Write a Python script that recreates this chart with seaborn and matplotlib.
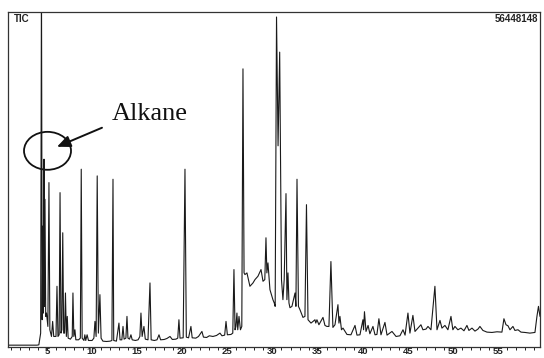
import matplotlib
matplotlib.use("Agg")
import matplotlib.pyplot as plt
import matplotlib.patches as mpatches
import numpy as np
import pandas as pd
import seaborn as sns

# ---- data (retention time in min, relative intensity) ----
t_early = [0.68, 3.9, 4.1, 4.3, 4.39, 4.47, 4.55, 4.61, 4.67, 4.72, 4.78, 4.86, 4.95,
           5.1, 5.22, 5.32, 5.5, 5.63, 5.75, 6.0, 6.11, 6.22, 6.35, 6.45, 6.55, 6.65,
           6.75, 6.85, 6.95, 7.05, 7.15, 7.25, 7.35, 7.6, 7.8, 7.88, 7.98, 8.1, 8.2,
           8.5, 8.7, 8.8, 8.9, 9.1, 9.2, 9.3, 9.45, 9.6, 10.0, 10.2, 10.32, 10.45,
           10.57, 10.7, 10.87, 11.0, 11.2, 11.6, 12.0, 12.2, 12.32, 12.4, 12.7]
i_early = [0.4, 0.4, 0.5, 4.0, 110, 8.0, 36, 10, 56, 12, 44, 9, 10,
           6, 49, 5, 3, 7.5, 3, 3, 18, 3, 3.5, 46, 4, 5,
           34, 4, 4, 16, 3, 9, 2.5, 2.2, 3, 16, 3, 5, 2,
           2, 2.5, 53, 2.5, 1.8, 3.5, 1.8, 3.5, 1.8, 1.8, 2.5, 7.5, 3,
           51, 4, 15.5, 2.5, 1.6, 1.5, 1.6, 1.8, 50, 1.8, 1.6]

t_mid = [12.98, 13.1, 13.3, 13.43, 13.55, 13.75, 13.87, 13.98, 14.15, 14.31, 14.45,
         14.8, 15.1, 15.3, 15.42, 15.55, 15.75, 15.9, 16.2, 16.42, 16.55, 16.9, 17.2,
         17.42, 17.6, 18.0, 18.3, 18.64, 18.9, 19.3, 19.5, 19.63, 19.75, 20.1, 20.3,
         20.45, 20.7, 20.96, 21.1, 21.5, 21.8, 22.18, 22.35, 22.7, 23.0, 23.4, 23.8,
         24.18, 24.4, 24.7, 24.85, 25.0, 25.4, 25.6, 25.73, 25.85, 25.95, 26.06,
         26.15, 26.29, 26.45, 26.6, 26.73, 26.85, 26.95, 27.17, 27.5, 27.84, 28.06,
         28.39, 28.73, 28.95, 29.15, 29.28, 29.38, 29.5, 29.72, 30.05, 30.2, 30.3,
         30.45, 30.62, 30.8, 31.0, 31.16, 31.3, 31.5, 31.6, 31.72, 31.83, 31.94,
         32.16, 32.5, 32.6, 32.72, 32.88, 33.05, 33.38, 33.6, 33.77, 33.94]
i_mid = [7, 2, 2, 6, 2.2, 2.5, 9, 2.5, 2.2, 3.5, 2,
         1.8, 2, 3, 10, 3, 6, 2.2, 2, 19, 2, 1.8, 2,
         3.5, 2.0, 2.1, 2.4, 3, 2.1, 2.2, 2.5, 8, 2.5, 2.6, 53,
         2.8, 2.6, 6, 2.6, 2.5, 3, 4.5, 2.8, 2.7, 3.2, 3.0, 3.3,
         4, 3.2, 3.4, 7.5, 3.5, 3.6, 4, 23, 5, 6, 10,
         5, 9, 5, 6, 83, 22, 21.5, 22, 18, 19, 20,
         21, 23, 19.5, 20, 32.5, 22, 25, 17, 14, 13, 12,
         98.5, 60, 88, 20, 14, 20, 45.7, 14, 22, 13, 11.6,
         12, 16, 12, 50, 12, 11, 8.7, 9, 42.4, 8]

t_late = [34.27, 34.5, 34.71, 34.8, 34.93, 35.15, 35.6, 35.82, 36.04, 36.26, 36.48,
          36.7, 36.93, 37.26, 37.37, 37.48, 37.65, 37.82, 38.26, 38.7, 39.15, 39.37,
          39.7, 40.03, 40.1, 40.2, 40.37, 40.6, 40.8, 41.14, 41.37, 41.58, 41.8, 42.03,
          42.47, 42.7, 43.25, 43.7, 44.13, 44.47, 44.7, 45.02, 45.24, 45.57, 45.8,
          46.13, 46.46, 46.68, 47.02, 47.24, 47.57, 48.01, 48.24, 48.57, 48.79, 49.12,
          49.45, 49.79, 50.0, 50.23, 50.56, 50.89, 51.23, 51.56, 51.78, 52.12, 52.45,
          52.78, 53.0, 53.33, 53.78, 54.33, 54.89, 55.44, 55.66, 55.89, 56.11, 56.33,
          56.66, 56.88, 57.22, 57.55, 57.99, 58.54, 59.1, 59.32, 59.49, 59.66]
i_late = [7, 7.5, 8, 7, 8, 6.5, 8.7, 6.3, 6, 6, 25.4,
          5.7, 6.5, 12.5, 7, 9, 5, 5.5, 3.6, 3.5, 6.3, 3.4,
          3.5, 8, 5, 10.4, 4.5, 6.3, 3.8, 6, 3.5, 3.6, 8.3, 3.5,
          7.2, 3.4, 4.5, 3.0, 3.2, 5, 3.4, 10, 4, 9.3, 4.5,
          5.5, 6.5, 5, 5.2, 6, 5, 18, 5, 7.8, 5.5, 6.3,
          5, 9, 5, 6, 5, 5.5, 4.7, 6.3, 4.8, 5.5, 4.6,
          5.2, 6, 4.8, 4.3, 4.2, 4.4, 4.3, 8.3, 6.5, 6.2, 5,
          6, 4.8, 5, 4.3, 4.2, 4.0, 4.2, 9, 12, 9]

major_ticks = [5, 10, 15, 20, 25, 30, 35, 40, 45, 50, 55]
tick_labels = ["5", "10", "15", "20", "25", "30", "35", "40", "45", "50", "55"]
signal_label = "TIC"
max_label = "56448148"
annot_text = "Alkane"

df = pd.DataFrame({
    "time": t_early + t_mid + t_late,
    "intensity": i_early + i_mid + i_late,
})

sns.set_style("white")
sansf = ["Liberation Sans", "DejaVu Sans"]
plt.rcParams["font.family"] = sansf

fig = plt.figure(figsize=(5.44, 3.58), dpi=100)
ax = fig.add_axes([8 / 544, 1 - 346.5 / 358, 532 / 544, 334.5 / 358])

sns.lineplot(data=df, x="time", y="intensity", ax=ax, sort=False, estimator=None,
             color="#1a1a1a", linewidth=0.8)

ax.set_xlim(0.68, 59.66)
ax.set_ylim(0, 100)
ax.set_xlabel("")
ax.set_ylabel("")
ax.set_yticks([])
ax.set_xticks(major_ticks)
ax.set_xticklabels(tick_labels, fontsize=6.8, fontweight="bold", family=sansf)
ax.set_xticks(np.arange(1, 60, 1), minor=True)
ax.tick_params(axis="x", which="major", direction="out", length=2.5, width=0.8,
               pad=-2.2, colors="#222222", bottom=True)
ax.tick_params(axis="x", which="minor", direction="out", length=2.2, width=0.7,
               bottom=True, color="#222222")
for s in ax.spines.values():
    s.set_visible(True)
    s.set_color("#333333")
    s.set_linewidth(0.9)

ax.text(0.011, 0.994, signal_label, transform=ax.transAxes, ha="left", va="top",
        fontsize=7, fontweight="bold", family=sansf, color="#222222")
ax.text(0.996, 0.994, max_label, transform=ax.transAxes, ha="right", va="top",
        fontsize=7, fontweight="bold", family=sansf, color="#222222")

# annotation: circle round the alkane peak, arrow and label
ell = mpatches.Ellipse((5.06, 58.5), width=5.21, height=11.34, fill=False,
                       edgecolor="#111111", linewidth=1.3)
ax.add_patch(ell)
ax.annotate("", xy=(6.11, 59.7), xytext=(11.1, 65.4),
            arrowprops=dict(arrowstyle="-|>,head_length=0.8,head_width=0.35",
                            color="#111111", lw=1.4, shrinkA=0, shrinkB=0))
ax.text(16.42, 69.6, annot_text, ha="center", va="center", fontsize=19,
        family=["Liberation Serif", "DejaVu Serif"], color="#111111")

fig.savefig("out.png", dpi=100)
